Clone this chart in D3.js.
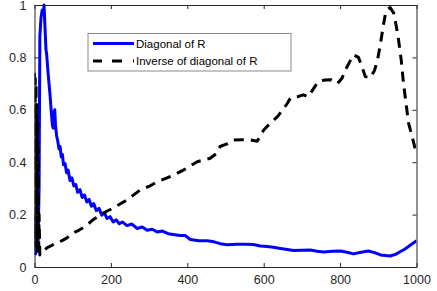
<!DOCTYPE html>
<html>
<head>
<meta charset="utf-8">
<script src="https://cdn.jsdelivr.net/npm/d3@7"></script>
<style>
html,body{margin:0;padding:0;background:#fff;}
svg{display:block;}
text{font-family:"Liberation Sans",Arial,Helvetica,sans-serif;}
</style>
</head>
<body>
<svg id="chart" width="437" height="291"></svg>
<script>
// ---- data ----
const seriesNames = ["Diagonal of R", "Inverse of diagonal of R"];
const xTicks = [0, 200, 400, 600, 800, 1000];
const yTicks = [0, 0.2, 0.4, 0.6, 0.8, 1];
const yTickLabels = ["0", "0.2", "0.4", "0.6", "0.8", "1"];

const diagX = [1,2,3,4,5,6,7,8,9,10,12,14,17,20,23,25,27,30,32,35,38,41,44,47,49,51,53,55,58,61,64,67,70,73,76,80,84,88,93,98,103,108,113,119,125,131,137,143,149,155,162,169,176,183,190,198,206,214,222,230,242,255,269,282,295,308,321,335,350,363,381,395,408,430,452,470,486,504,530,550,573,591,609,625,644,662,678,700,722,740,757,780,801,818,835,855,874,890,906,931,945,957,969,979,990,1000];
const diagY = [0.06,0.19,0.05,0.16,0.06,0.13,0.06,0.1,0.07,0.14,0.3,0.88,0.95,0.98,0.97,1.0,0.93,0.83,0.81,0.75,0.7,0.65,0.59,0.54,0.53,0.59,0.6,0.54,0.5,0.48,0.45,0.46,0.42,0.43,0.39,0.395,0.36,0.37,0.33,0.34,0.31,0.315,0.285,0.295,0.265,0.275,0.248,0.258,0.232,0.242,0.215,0.224,0.198,0.207,0.185,0.192,0.172,0.18,0.165,0.172,0.158,0.164,0.147,0.153,0.14,0.144,0.134,0.137,0.127,0.124,0.12,0.12,0.105,0.1,0.1,0.096,0.089,0.085,0.087,0.087,0.086,0.08,0.078,0.075,0.071,0.067,0.063,0.064,0.065,0.06,0.057,0.06,0.061,0.056,0.05,0.056,0.061,0.055,0.046,0.042,0.048,0.058,0.068,0.078,0.09,0.1];

const invX = [0,1,2,3,4,5,6,7,8,9,10,11,12,14,20,32,45,58,71,84,101,116,132,153,180,206,242,277,303,321,347,363,390,426,460,478,486,504,521,545,565,583,600,618,636,650,662,670,688,704,717,730,743,760,775,793,805,814,824,835,848,856,866,879,890,898,906,913,919,925,931,940,947,953,960,966,973,979,990,1000];
const invY = [0.74,0.1,0.72,0.08,0.7,0.12,0.62,0.06,0.56,0.1,0.45,0.07,0.2,0.046,0.05,0.073,0.082,0.092,0.1,0.11,0.13,0.14,0.154,0.18,0.206,0.225,0.256,0.294,0.31,0.325,0.34,0.35,0.37,0.402,0.415,0.435,0.46,0.47,0.485,0.486,0.485,0.48,0.523,0.55,0.574,0.6,0.625,0.645,0.65,0.657,0.65,0.68,0.708,0.714,0.715,0.7,0.72,0.753,0.78,0.81,0.8,0.77,0.727,0.722,0.75,0.79,0.855,0.92,0.97,0.985,0.99,0.97,0.92,0.867,0.79,0.7,0.62,0.55,0.49,0.43];

// ---- layout ----
const svg = d3.select("#chart");
const L = 34.5, R = 416.5, T = 5, B = 267;
const x = d3.scaleLinear().domain([0, 1000]).range([L, R]);
const y = d3.scaleLinear().domain([0, 1]).range([B, T]);
const axisColor = "#262626";

svg.append("rect").attr("x", L).attr("y", T).attr("width", R - L).attr("height", B - T).attr("fill", "#fff");

svg.append("defs").append("clipPath").attr("id", "clip")
  .append("rect").attr("x", L).attr("y", T - 2).attr("width", R - L).attr("height", B - T + 4);

const line = d3.line().x(d => x(d[0])).y(d => y(d[1]));
const diag = diagX.map((v, i) => [v, diagY[i]]);
const inv = invX.map((v, i) => [v, invY[i]]);

const g = svg.append("g").attr("clip-path", "url(#clip)");
g.append("path").datum(diag).attr("d", line)
  .attr("fill", "none").attr("stroke", "#0000ff").attr("stroke-width", 3).attr("stroke-linejoin", "round");
g.append("path").datum(inv).attr("d", line)
  .attr("fill", "none").attr("stroke", "#000").attr("stroke-width", 3)
  .attr("stroke-dasharray", "10,7").attr("stroke-linejoin", "round");

// ---- axes (box with inward ticks on all sides) ----
const tickLen = 4;
const xAxisB = d3.axisBottom(x).tickValues(xTicks).tickSizeInner(-tickLen).tickSizeOuter(0).tickPadding(8).tickFormat(d3.format("d"));
const xAxisT = d3.axisTop(x).tickValues(xTicks).tickSizeInner(-tickLen).tickSizeOuter(0).tickFormat("");
const yAxisL = d3.axisLeft(y).tickValues(yTicks).tickSizeInner(-tickLen).tickSizeOuter(0).tickPadding(8).tickFormat((d, i) => yTickLabels[i]);
const yAxisR = d3.axisRight(y).tickValues(yTicks).tickSizeInner(-tickLen).tickSizeOuter(0).tickFormat("");

function style(sel) {
  sel.select(".domain").attr("stroke", axisColor).attr("stroke-width", 1);
  sel.selectAll(".tick line").attr("stroke", axisColor);
  sel.selectAll(".tick text").attr("fill", axisColor).style("font-size", "12.5px")
    .style("font-family", "'Liberation Sans', Arial, Helvetica, sans-serif");
}
svg.append("g").attr("transform", `translate(0,${B})`).call(xAxisB).call(style);
svg.append("g").attr("transform", `translate(0,${T})`).call(xAxisT).call(style);
svg.append("g").attr("transform", `translate(${L},0)`).call(yAxisL).call(style);
svg.append("g").attr("transform", `translate(${R},0)`).call(yAxisR).call(style);

// ---- legend ----
const lg = svg.append("g");
lg.append("rect").attr("x", 88).attr("y", 33.5).attr("width", 203).attr("height", 37.5)
  .attr("fill", "#fff").attr("stroke", "#8a8a8a").attr("stroke-width", 1);
const items = [
  {name: seriesNames[0], color: "#0000ff", dash: null, y: 43.5},
  {name: seriesNames[1], color: "#000", dash: "9,10,10,11,2", y: 61}
];
items.forEach(it => {
  const l = lg.append("line").attr("x1", 93).attr("x2", 134).attr("y1", it.y).attr("y2", it.y)
    .attr("stroke", it.color).attr("stroke-width", 3);
  if (it.dash) l.attr("stroke-dasharray", it.dash);
  lg.append("text").attr("x", 136).attr("y", it.y).attr("dy", "0.35em")
    .attr("fill", "#000").style("font-size", "11.5px").text(it.name);
});
</script>
</body>
</html>
